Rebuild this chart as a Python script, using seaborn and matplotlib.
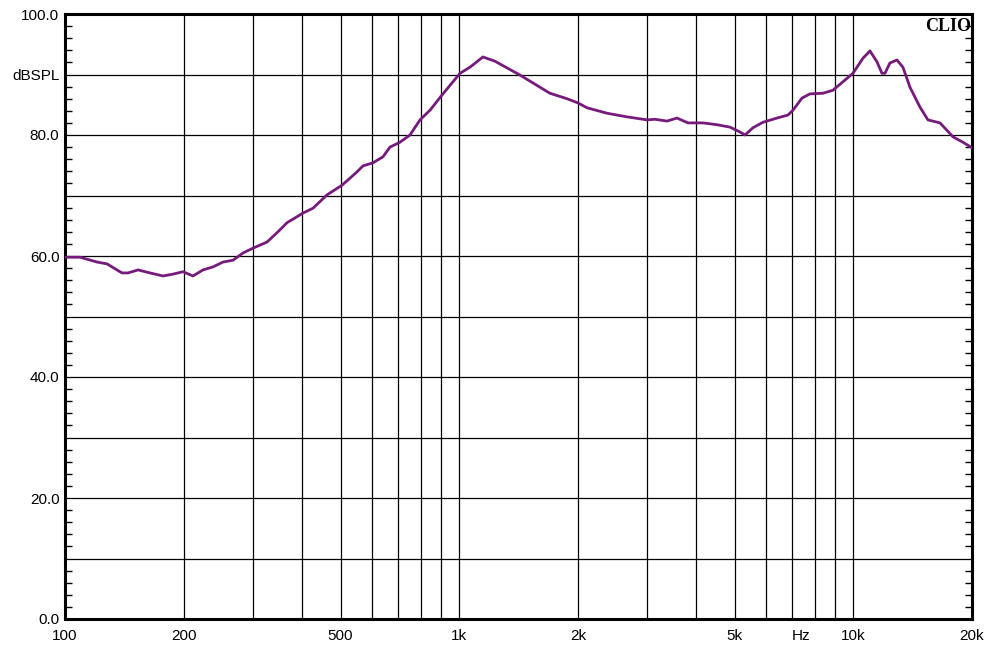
import numpy as np
import pandas as pd
import matplotlib
matplotlib.use("Agg")
import matplotlib.pyplot as plt
from matplotlib.ticker import FixedLocator, NullFormatter
import seaborn as sns

freq_hz = [100, 109.2, 120.6, 127.8, 139.5, 144.5, 153.2, 164.3, 177.3, 187.9,
           199.2, 211.2, 223.9, 237.4, 251.7, 266.8, 282.9, 299.9, 325.4, 347.0,
           365.8, 401.7, 425.8, 462.0, 504.3, 550.5, 570.2, 604.4, 640.8, 667.5,
           707.4, 750.3, 795.5, 843.3, 904.5, 958.8, 1005, 1065, 1149, 1232,
           1322, 1427, 1539, 1699, 1877, 2002, 2110, 2371, 2665, 2995,
           3138, 3366, 3569, 3806, 4155, 4508, 4864, 5157, 5309, 5563,
           5897, 6400, 6827, 7029, 7407, 7762, 8374, 8877, 9410, 9977,
           10580, 11020, 11480, 11820, 12030, 12380, 12900, 13360, 13920, 14760,
           15460, 16590, 17900, 18970, 20000]
spl_db = [59.8, 59.8, 59.0, 58.7, 57.2, 57.2, 57.7, 57.2, 56.7, 57.0,
          57.4, 56.7, 57.7, 58.2, 59.0, 59.3, 60.5, 61.3, 62.3, 64.0,
          65.5, 67.1, 67.9, 70.1, 71.7, 73.9, 74.9, 75.4, 76.4, 78.0,
          78.8, 80.0, 82.5, 84.1, 86.6, 88.6, 90.2, 91.2, 92.9, 92.2,
          91.1, 89.9, 88.6, 86.9, 86.0, 85.3, 84.5, 83.6, 83.0, 82.5,
          82.6, 82.3, 82.8, 82.0, 82.0, 81.7, 81.3, 80.5, 80.0, 81.2,
          82.1, 82.8, 83.3, 84.1, 86.1, 86.8, 86.9, 87.4, 88.8, 90.2,
          92.7, 93.9, 92.1, 90.2, 90.2, 91.9, 92.4, 91.2, 87.9, 84.6,
          82.5, 82.0, 79.7, 78.8, 77.9]

x_grid = [200, 300, 400, 500, 600, 700, 800, 900, 1000, 2000, 3000, 4000,
          5000, 6000, 7000, 8000, 9000, 10000]
x_tick_pos = [100, 200, 500, 1000, 2000, 5000, 10000, 20000]
x_tick_lab = ["100", "200", "500", "1k", "2k", "5k", "10k", "20k"]
y_tick_pos = [0, 10, 20, 30, 40, 50, 60, 70, 80, 90, 100]
y_tick_lab = ["0.0", "", "20.0", "", "40.0", "", "60.0", "", "80.0", "dBSPL", "100.0"]

sns.set_style("white")
plt.rcParams['font.family'] = ['Liberation Sans', 'DejaVu Sans']

fig = plt.figure(figsize=(9.98, 6.48), dpi=100)
ax = fig.add_axes([65/998, 1 - 619/648, (972-65)/998, (619-14)/648])

df = pd.DataFrame({"f": freq_hz, "db": spl_db})
sns.lineplot(data=df, x="f", y="db", ax=ax, color="#761a7c", linewidth=2.0, zorder=3)

ax.set_xscale("log")
ax.set_xlim(100, 20000)
ax.set_ylim(0, 100)

for xv in x_grid:
    ax.axvline(xv, color="black", linewidth=0.9, zorder=1)
for yv in y_tick_pos[1:-1]:
    ax.axhline(yv, color="black", linewidth=0.9, zorder=1)

ax.xaxis.set_major_locator(FixedLocator(x_tick_pos))
ax.set_xticklabels(x_tick_lab)
ax.xaxis.set_minor_locator(FixedLocator([]))
ax.xaxis.set_minor_formatter(NullFormatter())
ax.tick_params(axis="x", which="major", length=0, pad=7, labelsize=11, colors="black")
ax.text(7360, -0.017, "Hz", transform=ax.get_xaxis_transform(), ha="center", va="top",
        fontsize=11, color="black")

ax.set_yticks(y_tick_pos)
ax.set_yticklabels(y_tick_lab)
ax.yaxis.set_minor_locator(FixedLocator(list(range(0, 101, 2))))
ax.tick_params(axis="y", which="major", length=0, pad=4, labelsize=11, colors="black")
ax.tick_params(axis="y", which="minor", length=5, width=1, direction="in",
               left=True, right=True, color="black")

ax.set_xlabel("")
ax.set_ylabel("")
for s in ax.spines.values():
    s.set_visible(True)
    s.set_color("black")
    s.set_linewidth(2.2)

ax.text(0.999, 0.993, "CLIO", transform=ax.transAxes, ha="right", va="top",
        fontsize=13, fontweight="bold", family="Liberation Serif", color="black")

fig.savefig("out.png", dpi=100, facecolor="white")
